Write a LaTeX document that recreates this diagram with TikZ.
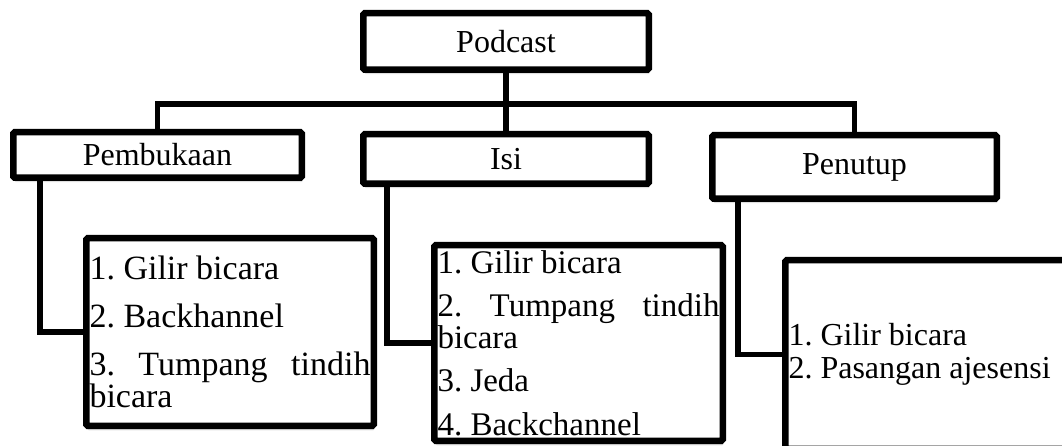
\documentclass[tikz,border=0pt]{standalone}
\usepackage{fontspec}
\setmainfont{Liberation Serif}
\usetikzlibrary{calc}
\usetikzlibrary{shadows}

\newcommand{\listtext}{\frenchspacing\parindent=0pt\relax\hyphenpenalty=10000\relax\tolerance=10000\relax\hbadness=10000\relax}

\begin{document}
\begin{tikzpicture}[x=1pt, y=-1pt,
    head/.style={draw, line width=6.5pt, rounded corners=1.5pt, fill=white, inner sep=0pt,
      drop shadow={shadow xshift=1pt, shadow yshift=-4.5pt, opacity=.25},
      font=\fontsize{32}{36}\selectfont},
    listbox/.style={draw, line width=6.5pt, rounded corners=1.5pt, fill=white, inner xsep=3.25pt, inner ysep=0pt,
      drop shadow={shadow xshift=1pt, shadow yshift=-4.5pt, opacity=.25}, align=justify,
      font=\fontsize{33}{31.5}\selectfont\listtext},
    itemgap/.style={execute at begin node={\setlength{\parskip}{#1}}},
    link/.style={line width=5.5pt}]
  \useasboundingbox (0,0) rectangle (1062,446);
  \clip (0,0) rectangle (1062,446);

  \node[head, minimum width=285.5pt, minimum height=56.5pt] (podcast) at (506,41.5) {Podcast};
  \node[head, minimum width=288.5pt, minimum height=45.5pt] (buka) at (157.5,155) {Pembukaan};
  \node[head, minimum width=285.5pt, minimum height=49.5pt] (isi) at (506,159) {Isi};
  \node[head, minimum width=284.5pt, minimum height=63.5pt] (tutup) at (854.5,167) {Penutup};

  \node[listbox, itemgap=16pt, text width=281pt, minimum height=187.5pt, font=\fontsize{34}{32}\selectfont\listtext] (list1) at (230,332)
    {1. Gilir bicara\par 2. Backhannel\par 3. Tumpang tindih bicara};
  \node[listbox, itemgap=12pt, text width=282pt, minimum height=195.5pt] (list2) at (578.5,343)
    {1. Gilir bicara\par 2. Tumpang tindih bicara\par 3. Jeda\par 4. Backchannel};
  \node[listbox, itemgap=0pt, text width=287pt, minimum height=188.5pt, font=\fontsize{32}{33}\selectfont\listtext] (list3) at (932,354.5)
    {1. Gilir bicara\par 2. Pasangan ajesensi};

  \coordinate (bar) at (506,104);
  \draw[link] (podcast) -- (isi);
  \draw[link] (buka.north) |- (bar) -| (tutup.north);
  \draw[link] ($(buka.south west)+(30,0)$) |- (list1.west);
  \draw[link] ($(isi.south west)+(27,0)$) |- (list2.west);
  \draw[link] ($(tutup.south west)+(29,0)$) |- (list3.west);
\end{tikzpicture}
\end{document}
